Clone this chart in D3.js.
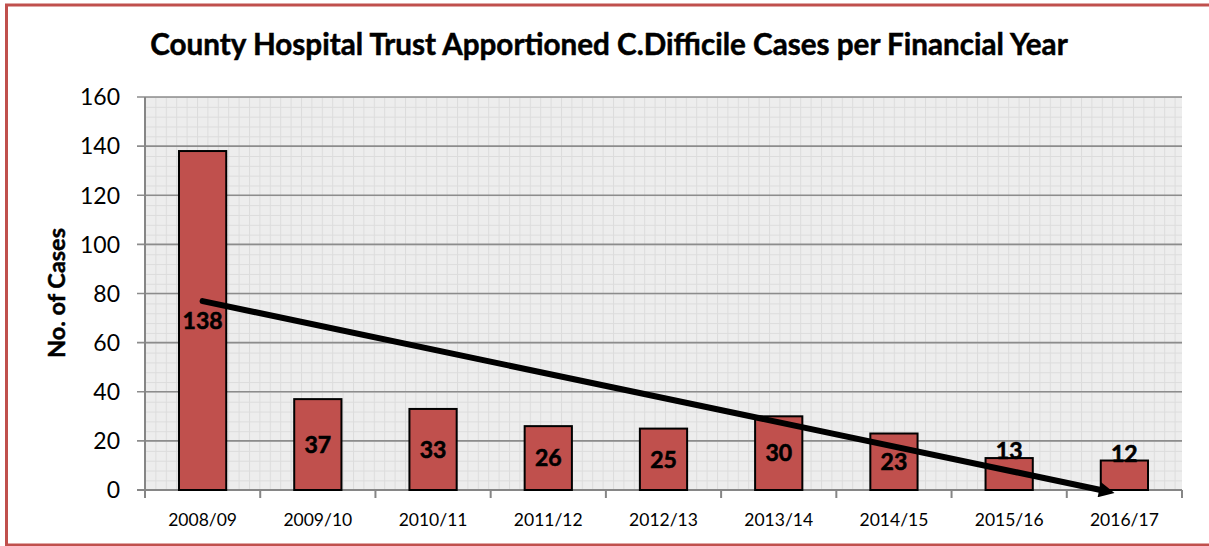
<!DOCTYPE html>
<html><head><meta charset="utf-8">
<script src="https://cdn.jsdelivr.net/npm/d3@7"></script>
<style>body{margin:0;background:#fff}svg{display:block}</style>
</head><body>
<svg id="c" width="1209" height="546"></svg>
<script>
const categories = ["2008/09","2009/10","2010/11","2011/12","2012/13","2013/14","2014/15","2015/16","2016/17"];
const cases = [138,37,33,26,25,30,23,13,12];
const yTicks = [0,20,40,60,80,100,120,140,160];
const title = "County Hospital Trust Apportioned C.Difficile Cases per Financial Year";
const yLabel = "No. of Cases";

const svg = d3.select("#c");
const m = {left:145, right:1182, top:97, bottom:490};
const font = "Lato, 'Open Sans', sans-serif";

// outer border (red)
svg.append("path").attr("d", `M1209,5 H6.5 V545 H1209`).attr("fill","none")
  .attr("stroke","#c0504d").attr("stroke-width",3);

const x = d3.scaleBand().domain(categories).range([m.left, m.right]).paddingInner(0.59).paddingOuter(0.295);
const xc = d3.scalePoint().domain(categories).range([m.left, m.right]).padding(0.5);
const y = d3.scaleLinear().domain([0,160]).range([m.bottom, m.top]);

// plot background pattern
const defs = svg.append("defs");
const pat = defs.append("pattern").attr("id","grid").attr("patternUnits","userSpaceOnUse")
  .attr("x", m.left).attr("y", m.top).attr("width", 10.4).attr("height", 9.83);
pat.append("rect").attr("width",10.4).attr("height",9.83).attr("fill","#ededed");
pat.append("path").attr("d","M0,0.5 H10.4 M0.5,0 V9.83").attr("stroke","#dcdcdc").attr("stroke-width",1);
svg.append("rect").attr("x",m.left).attr("y",m.top).attr("width",m.right-m.left).attr("height",m.bottom-m.top)
  .attr("fill","url(#grid)");

// major gridlines
svg.append("g").selectAll("line").data(yTicks.filter(d=>d>0)).join("line")
  .attr("x1", m.left-8).attr("x2", m.right).attr("y1", d=>y(d)).attr("y2", d=>y(d))
  .attr("stroke","#8c8c8c").attr("stroke-width",1.6);

// y axis
svg.append("line").attr("x1",m.left).attr("x2",m.left).attr("y1",m.top).attr("y2",m.bottom)
  .attr("stroke","#868686").attr("stroke-width",2);
svg.append("line").attr("x1",m.left-8).attr("x2",m.left).attr("y1",m.bottom).attr("y2",m.bottom)
  .attr("stroke","#868686").attr("stroke-width",2);
svg.append("g").selectAll("text").data(yTicks).join("text")
  .attr("x", 120).attr("y", d=>y(d)).attr("dy","0.36em").attr("text-anchor","end")
  .attr("font-family",font).attr("font-size",23).attr("fill","#000").text(d=>d);

// x axis
svg.append("line").attr("x1",m.left).attr("x2",m.right).attr("y1",m.bottom).attr("y2",m.bottom)
  .attr("stroke","#868686").attr("stroke-width",2);
const step = x.step();
svg.append("g").selectAll("line").data(d3.range(categories.length+1)).join("line")
  .attr("x1", i=>m.left + i*(m.right-m.left)/categories.length)
  .attr("x2", i=>m.left + i*(m.right-m.left)/categories.length)
  .attr("y1", m.bottom).attr("y2", m.bottom+8).attr("stroke","#868686").attr("stroke-width",2);
svg.append("g").selectAll("text").data(categories).join("text")
  .attr("x", d=>xc(d)).attr("y", 526).attr("text-anchor","middle")
  .attr("font-family",font).attr("font-size",17.5).attr("fill","#000").text(d=>d);

// bars
svg.append("g").selectAll("rect").data(cases).join("rect")
  .attr("x",(d,i)=>x(categories[i])).attr("width",x.bandwidth())
  .attr("y",d=>y(d)).attr("height",d=>y(0)-y(d))
  .attr("fill","#c0504d").attr("stroke","#000").attr("stroke-width",2);

// data labels
svg.append("g").selectAll("text").data(cases).join("text")
  .attr("x",(d,i)=>xc(categories[i]))
  .attr("y",d=> d>=20 ? (y(d)+y(0))/2 : y(d)+1)
  .attr("dy", d=> d>=20 ? "0.36em" : "0")
  .attr("text-anchor","middle").attr("font-family",font).attr("font-weight","bold")
  .attr("font-size",23).attr("fill","#000").attr("stroke","#000").attr("stroke-width",0.6).text(d=>d);

// linear trendline (least squares over category index)
const n = cases.length;
const xs = d3.range(1,n+1);
const mx = d3.mean(xs), my = d3.mean(cases);
const slope = d3.sum(xs.map((xi,i)=>(xi-mx)*(cases[i]-my))) / d3.sum(xs.map(xi=>(xi-mx)**2));
const icpt = my - slope*mx;
const pxOf = t => xc(categories[0]) + (t-1)*step;
const tZero = -icpt/slope;
const tEnd = Math.min(n, tZero);
defs.append("marker").attr("id","arr").attr("viewBox","0 0 10 10").attr("refX",1).attr("refY",5)
  .attr("markerWidth",3.2).attr("markerHeight",2.6).attr("orient","auto").attr("markerUnits","strokeWidth")
  .append("path").attr("d","M0,0 L10,5 L0,10 Z").attr("fill","#000");
svg.append("line")
  .attr("x1", pxOf(1)).attr("y1", y(icpt+slope*1))
  .attr("x2", pxOf(tEnd)).attr("y2", y(Math.max(0, icpt+slope*tEnd)))
  .attr("stroke","#000").attr("stroke-width",6).attr("stroke-linecap","round")
  .attr("marker-end","url(#arr)");

// title
const tt = svg.append("text").attr("x", 609).attr("y", 55).attr("text-anchor","middle")
  .attr("font-family",font).attr("font-weight","bold").attr("font-size",23).attr("fill","#000")
  .attr("stroke","#000").attr("stroke-width",0.5).text(title);
const tw = tt.node().getComputedTextLength();
tt.attr("font-size", 23*918/tw);

// y label
const yl = svg.append("text").attr("transform","translate(65,293) rotate(-90)").attr("text-anchor","middle")
  .attr("font-family",font).attr("font-weight","bold").attr("font-size",22).attr("fill","#000")
  .attr("stroke","#000").attr("stroke-width",0.5).text(yLabel);
const yw = yl.node().getComputedTextLength();
yl.attr("font-size", 22*130/yw);
</script>
</body></html>
